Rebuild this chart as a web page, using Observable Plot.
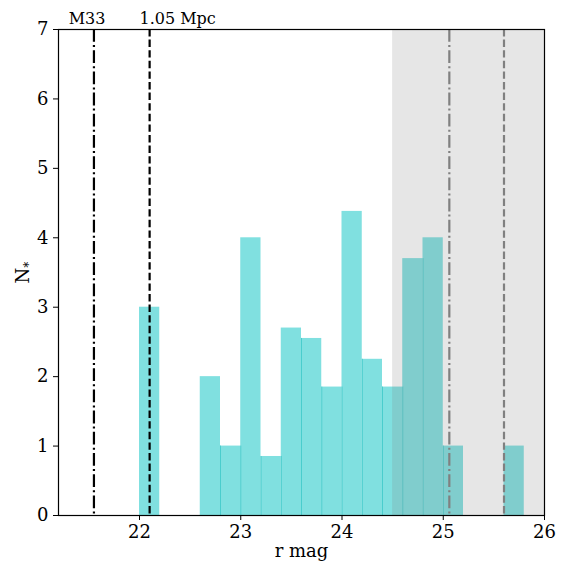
<!DOCTYPE html>
<html><head><meta charset="utf-8">
<script src="https://cdn.jsdelivr.net/npm/d3@7"></script>
<script src="https://cdn.jsdelivr.net/npm/@observablehq/plot@0.6"></script>
<style>body{margin:0;background:#fff}</style>
</head><body><div id="chart"></div>
<script>
const binStart = [22.0, 22.6, 22.8, 23.0, 23.2, 23.4, 23.6, 23.8, 24.0, 24.2, 24.4, 24.6, 24.8, 25.0, 25.6];
const counts   = [3,    2,    1,    4,    0.85, 2.7,  2.55, 1.85, 4.38, 2.25, 1.85, 3.7,  4,    1,    1];
const binWidth = 0.2;
const lineNames = ["M33", "1.05 Mpc", "M33 limit", "1.05 Mpc limit"];
const lineX = [21.55, 22.1, 25.06, 25.6];
const labelText = ["M33", "1.05 Mpc"];
const labelX = [21.3, 22.0];
const shadeFrom = 24.5, shadeTo = 26;
const xTicks = [22, 23, 24, 25, 26];
const yTicks = [0, 1, 2, 3, 4, 5, 6, 7];

const bars = binStart.map((x, i) => ({x1: x, x2: x + binWidth, y: counts[i]}));
const edges = bars.slice(1).map((b, i) => ({x: b.x1, y: Math.min(b.y, Math.abs(bars[i].x2 - b.x1) < 1e-9 ? bars[i].y : 0)})).filter(d => d.y > 0);
const lines = lineX.map((x, i) => ({x, name: lineNames[i]}));
const labels = labelX.map((x, i) => ({x, text: labelText[i]}));
const font = "DejaVu Serif";
const DASHDOT = "12.8,3.2,2,3.2", DASHED = "7.4,3.2";

const chart = Plot.plot({
  width: 565, height: 563,
  marginLeft: 58, marginRight: 21, marginTop: 29, marginBottom: 48,
  style: {fontFamily: font, fontSize: "18px", color: "#000", background: "#fff"},
  x: {domain: [21.2, 26]},
  y: {domain: [0, 7]},
  marks: [
    Plot.rectY(bars, {x1: "x1", x2: "x2", y: "y", fill: "#80e0e0", inset: 0}),
    Plot.ruleX(edges, {x: "x", y1: 0, y2: "y", stroke: "#3cc8c8", strokeWidth: 0.8}),
    Plot.rect([{x1: shadeFrom, x2: shadeTo}], {x1: "x1", x2: "x2", y1: 0, y2: 7, fill: "gray", fillOpacity: 0.2}),
    Plot.ruleX([lines[0]], {x: "x", stroke: "#000", strokeWidth: 2.2, strokeDasharray: DASHDOT}),
    Plot.ruleX([lines[1]], {x: "x", stroke: "#000", strokeWidth: 2.2, strokeDasharray: DASHED}),
    Plot.ruleX([lines[2]], {x: "x", stroke: "#808080", strokeWidth: 2.2, strokeDasharray: DASHDOT}),
    Plot.ruleX([lines[3]], {x: "x", stroke: "#808080", strokeWidth: 2.2, strokeDasharray: DASHED}),
    Plot.text(labels, {x: "x", text: "text", frameAnchor: "top", textAnchor: "start", lineAnchor: "bottom", dy: -6, fontSize: 16, fill: "#000"}),
    Plot.frame({stroke: "#000", strokeWidth: 1.2}),
    Plot.axisX({ticks: xTicks, tickFormat: "d", tickSize: 5, tickPadding: 5, fontSize: 18, label: "r mag", labelAnchor: "center", labelArrow: "none", labelOffset: 41}),
    Plot.axisY({ticks: yTicks, tickFormat: "d", tickSize: 5, tickPadding: 5, fontSize: 18, label: "N*", labelAnchor: "center", labelArrow: "none", labelOffset: 42})
  ]
});
document.getElementById("chart").appendChild(chart);
d3.select(chart).selectAll("text").filter(function(){ return this.textContent === "N*"; }).each(function(){
  const t = d3.select(this);
  t.text("N");
  t.append("tspan").attr("dy", "0.3em").attr("font-size", "12px").text("*");
});
</script></body></html>
